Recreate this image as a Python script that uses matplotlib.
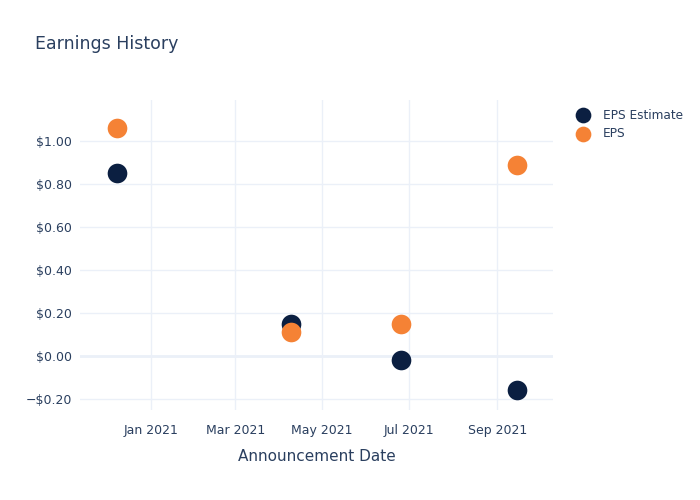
import matplotlib
matplotlib.use("Agg")
import matplotlib.pyplot as plt
import matplotlib.ticker as mticker
from datetime import datetime

dates = ["2020-12-08", "2021-04-09", "2021-06-25", "2021-09-15"]
eps_estimate = [0.85, 0.15, -0.02, -0.16]
eps_actual = [1.06, 0.11, 0.15, 0.89]
x_ticks = ["2021-01-01", "2021-03-01", "2021-05-01", "2021-07-01", "2021-09-01"]
x_tick_labels = ["Jan 2021", "Mar 2021", "May 2021", "Jul 2021", "Sep 2021"]
y_ticks = [-0.2, 0.0, 0.2, 0.4, 0.6, 0.8, 1.0]

TEXT = "#2a3f5f"
GRID = "#EBF0F8"
NAVY = "#0B1F41"
ORANGE = "#F58235"

plt.rcParams['font.family'] = ['DejaVu Sans']
fig = plt.figure(figsize=(7, 5), dpi=100)
ax = fig.add_axes([80/700, 90/500, 473/700, 310/500])

xd = [datetime.strptime(d, "%Y-%m-%d") for d in dates]
ax.scatter(xd, eps_estimate, s=200, color=NAVY, label="EPS Estimate", zorder=3, linewidths=0)
ax.scatter(xd, eps_actual, s=200, color=ORANGE, label="EPS", zorder=3, linewidths=0)

ax.set_xlim(datetime(2020, 11, 12), datetime(2021, 10, 10))
ax.set_ylim(-0.251, 1.19)
ax.set_xticks([datetime.strptime(d, "%Y-%m-%d") for d in x_ticks])
ax.set_xticklabels(x_tick_labels)
ax.set_yticks(y_ticks)
ax.yaxis.set_major_formatter(mticker.FuncFormatter(
    lambda v, p: ("\u2212$%.2f" % abs(v)) if v < -1e-9 else "$%.2f" % abs(v)))

for s in ax.spines.values():
    s.set_visible(False)
ax.grid(True, color=GRID, linewidth=1)
ax.axhline(0, color=GRID, linewidth=2, zorder=1)
ax.set_axisbelow(True)
ax.tick_params(axis='both', length=0, colors=TEXT, labelsize=9)
ax.tick_params(axis='x', pad=10)
ax.tick_params(axis='y', pad=6)

ax.set_xlabel("Announcement Date", color=TEXT, fontsize=11, labelpad=9)
fig.text(35/700, 1 - 44/500, "Earnings History", color=TEXT, fontsize=12.5, va='center', ha='left')

leg = ax.legend(loc='upper left', bbox_to_anchor=(1.027, 0.988), frameon=False,
                fontsize=8.7, labelcolor=TEXT, handletextpad=0.7, borderaxespad=0,
                labelspacing=0.45, markerscale=0.8)

fig.savefig("out.png", dpi=100)
